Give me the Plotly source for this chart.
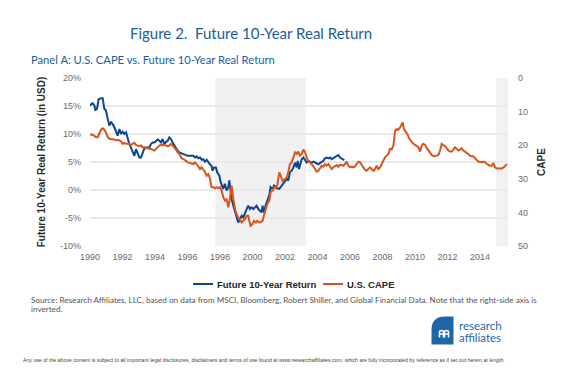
import plotly.graph_objects as go

# ---------------- data ----------------
ret_year = [1990.00, 1990.06, 1990.16, 1990.27, 1990.33, 1990.43, 1990.53, 1990.68, 1990.78, 1990.88,
            1990.98, 1991.09, 1991.19, 1991.29, 1991.39, 1991.50, 1991.60, 1991.70, 1991.81, 1991.91,
            1992.01, 1992.11, 1992.22, 1992.32, 1992.42, 1992.52, 1992.63, 1992.73, 1992.83, 1992.93,
            1993.04, 1993.14, 1993.24, 1993.34, 1993.45, 1993.55, 1993.65, 1993.75, 1993.86, 1993.96,
            1994.06, 1994.16, 1994.27, 1994.37, 1994.47, 1994.57, 1994.68, 1994.78, 1994.88, 1994.98,
            1995.09, 1995.19, 1995.29, 1995.39, 1995.50, 1995.60, 1995.70, 1995.81, 1995.91, 1996.01,
            1996.36, 1996.46, 1996.56, 1996.66, 1996.77, 1996.87, 1996.97, 1997.07, 1997.18, 1997.28,
            1997.38, 1997.48, 1997.54, 1997.63, 1997.75, 1997.83, 1997.96, 1998.04, 1998.12, 1998.20,
            1998.30, 1998.41, 1998.51, 1998.57, 1998.65, 1998.71, 1998.82, 1998.92, 1999.02, 1999.12,
            1999.23, 1999.33, 1999.43, 1999.53, 1999.64, 1999.74, 1999.84, 1999.94, 2000.05, 2000.15,
            2000.25, 2000.36, 2000.46, 2000.56, 2000.62, 2000.70, 2000.83, 2000.91, 2001.03, 2001.11,
            2001.24, 2001.32, 2001.44, 2001.52, 2001.65, 2001.73, 2001.85, 2002.00, 2002.10, 2002.20,
            2002.30, 2002.41, 2002.51, 2002.62, 2002.72, 2002.78, 2002.86, 2002.94, 2003.03, 2003.13,
            2003.23, 2003.33, 2003.44, 2003.54, 2003.64, 2003.74, 2003.85, 2003.95, 2004.05, 2004.15,
            2004.26, 2004.36, 2004.46, 2004.56, 2004.67, 2004.77, 2004.87, 2004.97, 2005.08, 2005.18,
            2005.28, 2005.38, 2005.49, 2005.59, 2005.65]
ret_pct = [15.1, 15.2, 15.5, 15.1, 14.3, 14.5, 16.2, 16.4, 16.4, 14.5,
           14.2, 12.7, 11.5, 12.1, 11.8, 11.2, 10.6, 9.7, 10.9, 10.0,
           10.4, 10.0, 10.3, 9.1, 8.2, 7.6, 6.8, 6.1, 7.3, 6.4,
           5.8, 5.8, 6.7, 7.4, 7.6, 7.6, 7.6, 8.2, 8.5, 8.5,
           8.8, 9.0, 8.8, 8.5, 9.1, 8.2, 8.6, 8.8, 9.4, 9.1,
           8.5, 7.9, 7.6, 7.0, 6.7, 6.6, 6.4, 6.3, 6.3, 6.1,
           6.1, 5.8, 6.0, 5.65, 5.8, 5.4, 5.5, 5.05, 5.4, 4.9,
           4.6, 4.3, 3.45, 4.0, 4.0, 3.15, 2.55, 1.4, 0.8, 0.2,
           1.1, -0.1, 0.5, 1.7, -0.1, -1.6, -2.8, -3.7, -4.9, -5.8,
           -5.2, -4.6, -4.9, -4.0, -3.4, -2.8, -3.4, -3.1, -3.4, -3.1,
           -2.8, -3.4, -3.7, -4.0, -2.8, -4.0, -2.5, -1.9, -1.0, 0.5,
           0.2, 0.8, 0.5, 0.3, 0.2, 0.5, 1.1, 1.7, 2.0, 1.7,
           3.15, 3.45, 4.0, 4.9, 4.05, 5.2, 3.75, 4.6, 5.5, 5.8,
           5.4, 4.9, 5.2, 5.05, 4.9, 5.05, 4.9, 4.8, 4.6, 4.8,
           5.05, 5.2, 5.65, 5.8, 5.65, 5.8, 5.5, 5.65, 5.8, 6.1,
           6.25, 5.8, 5.65, 5.4, 5.35]

cape_year = [1990.00, 1990.06, 1990.16, 1990.27, 1990.37, 1990.47, 1990.57, 1990.68, 1990.78, 1990.88,
             1990.98, 1991.09, 1991.19, 1991.29, 1991.39, 1991.50, 1991.60, 1991.70, 1991.81, 1991.91,
             1992.01, 1992.11, 1992.22, 1992.32, 1992.42, 1992.52, 1992.63, 1992.73, 1992.83, 1992.93,
             1993.04, 1993.14, 1993.24, 1993.34, 1993.45, 1993.55, 1993.65, 1993.75, 1993.86, 1993.96,
             1994.06, 1994.16, 1994.27, 1994.37, 1994.47, 1994.57, 1994.68, 1994.78, 1994.88, 1994.98,
             1995.09, 1995.19, 1995.29, 1995.39, 1995.50, 1995.60, 1995.70, 1995.81, 1995.91, 1996.01,
             1996.36, 1996.46, 1996.56, 1996.66, 1996.77, 1996.87, 1996.97, 1997.07, 1997.18, 1997.28,
             1997.38, 1997.48, 1997.59, 1997.69, 1997.79, 1997.89, 1998.00, 1998.10, 1998.20, 1998.30,
             1998.41, 1998.51, 1998.61, 1998.65, 1998.71, 1998.82, 1998.92, 1999.02, 1999.12, 1999.23,
             1999.33, 1999.43, 1999.53, 1999.64, 1999.74, 1999.80, 1999.88, 2000.01, 2000.09, 2000.21,
             2000.29, 2000.42, 2000.50, 2000.62, 2000.70, 2000.83, 2000.91, 2001.03, 2001.11, 2001.24,
             2001.32, 2001.44, 2001.52, 2001.65, 2001.73, 2001.85, 2002.00, 2002.10, 2002.20, 2002.30,
             2002.41, 2002.51, 2002.62, 2002.72, 2002.82, 2002.92, 2003.03, 2003.13, 2003.23, 2003.33,
             2003.44, 2003.54, 2003.64, 2003.74, 2003.85, 2003.95, 2004.05, 2004.15, 2004.26, 2004.36,
             2004.46, 2004.56, 2004.67, 2004.77, 2004.87, 2004.97, 2005.08, 2005.18, 2005.28, 2005.38,
             2005.49, 2005.59, 2005.69, 2005.79, 2005.90, 2006.00, 2006.10, 2006.21, 2006.31, 2006.41,
             2006.51, 2006.62, 2006.72, 2006.82, 2006.92, 2007.02, 2007.13, 2007.23, 2007.33, 2007.44,
             2007.54, 2007.64, 2007.74, 2007.85, 2007.95, 2008.05, 2008.15, 2008.26, 2008.36, 2008.46,
             2008.56, 2008.67, 2008.77, 2008.87, 2008.97, 2009.08, 2009.18, 2009.24, 2009.32, 2009.45,
             2009.53, 2009.65, 2009.79, 2009.90, 2010.00, 2010.10, 2010.21, 2010.31, 2010.41, 2010.51,
             2010.62, 2010.72, 2010.82, 2010.92, 2011.03, 2011.13, 2011.23, 2011.33, 2011.44, 2011.54,
             2011.64, 2011.74, 2011.85, 2011.95, 2012.05, 2012.15, 2012.26, 2012.36, 2012.46, 2012.56,
             2012.67, 2012.77, 2012.87, 2012.97, 2013.08, 2013.18, 2013.28, 2013.38, 2013.49, 2013.59,
             2013.69, 2013.79, 2013.90, 2014.00, 2014.10, 2014.20, 2014.31, 2014.41, 2014.51, 2014.61,
             2014.72, 2014.82, 2014.92, 2015.03, 2015.13, 2015.23, 2015.33, 2015.44, 2015.54, 2015.64]
cape_value = [16.7, 16.9, 16.9, 17.3, 17.6, 17.6, 16.4, 15.4, 15.0, 15.4,
              16.2, 17.6, 18.1, 18.1, 18.3, 18.3, 18.6, 18.4, 18.6, 18.9,
              19.6, 19.3, 19.6, 19.6, 19.6, 19.9, 19.6, 19.3, 19.9, 20.1,
              20.3, 20.1, 20.6, 20.6, 20.9, 20.6, 21.1, 21.1, 21.3, 21.6,
              21.1, 20.6, 20.1, 19.9, 20.1, 19.9, 20.1, 20.3, 20.1, 19.6,
              20.1, 20.6, 21.3, 22.1, 22.6, 23.6, 24.1, 24.3, 24.6, 25.1,
              25.6, 25.1, 25.6, 26.3, 27.1, 26.6, 27.1, 27.9, 29.1, 28.6,
              29.9, 32.5, 32.5, 32.8, 32.5, 32.8, 32.5, 33.5, 35.5, 36.5,
              36.0, 38.5, 36.0, 33.5, 32.0, 36.0, 39.0, 40.5, 41.5, 42.0,
              43.0, 42.5, 42.0, 41.0, 41.0, 42.5, 44.0, 43.4, 42.5, 43.0,
              42.5, 43.0, 42.7, 42.5, 41.0, 39.0, 37.5, 36.5, 34.0, 33.5,
              32.5, 32.8, 32.0, 28.1, 29.1, 30.6, 30.1, 29.6, 28.1, 25.6,
              25.1, 23.6, 22.1, 22.6, 21.9, 23.1, 22.6, 21.3, 22.1, 23.6,
              24.9, 25.1, 25.6, 26.3, 27.1, 27.9, 27.6, 26.9, 26.1, 26.4,
              25.6, 26.1, 25.6, 26.4, 27.1, 26.6, 26.3, 25.9, 26.4, 25.9,
              25.9, 26.1, 25.6, 24.9, 26.1, 26.6, 26.4, 26.6, 26.3, 25.6,
              24.9, 25.1, 25.9, 26.6, 27.3, 27.6, 27.1, 26.6, 27.1, 27.6,
              27.1, 26.1, 27.1, 26.6, 25.6, 24.3, 23.6, 23.1, 22.6, 21.1,
              21.3, 20.1, 15.7, 15.2, 15.4, 14.7, 13.7, 13.2, 15.2, 16.2,
              16.7, 18.1, 19.1, 19.6, 19.9, 20.3, 20.6, 21.9, 20.1, 19.6,
              19.9, 20.9, 21.6, 22.1, 22.9, 23.3, 23.3, 23.1, 22.9, 21.6,
              19.6, 19.9, 20.3, 20.9, 21.6, 21.9, 21.9, 21.3, 20.6, 21.1,
              21.6, 21.3, 20.9, 21.6, 22.1, 22.3, 22.6, 23.1, 23.3, 23.3,
              23.9, 24.3, 24.9, 24.9, 25.1, 24.9, 25.1, 25.6, 25.9, 26.1,
              26.1, 25.3, 26.6, 26.9, 26.9, 26.9, 26.9, 26.6, 26.3, 25.6]

x_ticks = [1990, 1992, 1994, 1996, 1998, 2000, 2002, 2004, 2006, 2008, 2010, 2012, 2014]
y_ticks = [-10, -5, 0, 5, 10, 15, 20]
y_ticktext = ["-10%", "-5%", "0%", "5%", "10%", "15%", "20%"]
y2_ticks = [0, 10, 20, 30, 40, 50]
shaded_periods = [(1997.7, 2003.3), (2015.0, 2015.72)]
x_range = [1990.0, 2015.72]

# ---------------- styling ----------------
# The page body has an 8px margin, so the figure is drawn 8px smaller and
# every screen position below is given in window pixels and shifted by OFF.
OFF = 8
W, H = 580 - OFF, 371 - OFF
ML, MT = 90 - OFF, 78 - OFF
MR = W - (508 - OFF)
MB = H - (246 - OFF)
PW, PH = W - ML - MR, H - MT - MB
BLUE = "#0c4592"
ORANGE = "#d8541c"
TITLE_BLUE = "#1b5c9c"
TICK_FONT = dict(family="Liberation Sans, Arial", size=9, color="#6a6a6a")


def px(x):
    return (x - OFF - ML) / PW


def py(y):
    return (H - MB - (y - OFF)) / PH


fig = go.Figure()
fig.add_trace(go.Scatter(x=ret_year, y=ret_pct, mode="lines", name="Future 10-Year Return",
                         line=dict(color=BLUE, width=2), showlegend=False))
fig.add_trace(go.Scatter(x=cape_year, y=cape_value, mode="lines", name="U.S. CAPE", yaxis="y2",
                         line=dict(color=ORANGE, width=2), showlegend=False))

shapes = []
for a, b in shaded_periods:
    shapes.append(dict(type="rect", xref="x", yref="paper", x0=a, x1=b, y0=0, y1=1,
                       fillcolor="#f1f1f1", line=dict(width=0), layer="between"))

# manual legend
legend_items = [("Future 10-Year Return", BLUE, 193), ("U.S. CAPE", ORANGE, 323)]
annotations = []
for label, col, x0 in legend_items:
    shapes.append(dict(type="line", xref="paper", yref="paper", x0=px(x0), x1=px(x0 + 20),
                       y0=py(284), y1=py(284), line=dict(color=col, width=2)))
    annotations.append(dict(text=label, xref="paper", yref="paper", x=px(x0 + 22), y=py(284),
                            xanchor="left", yanchor="middle", showarrow=False,
                            font=dict(family="Liberation Sans, Arial", size=9.5, color="#262626",
                                      weight="bold")))

# logo
lx0, lx1, ly0, ly1 = 431.5, 453.5, 316.5, 344.5
logo_path = (f"M {px(lx1)},{py(ly0)} L {px(lx1)},{py(ly1)} L {px(lx0)},{py(ly1)} "
             f"L {px(lx0)},{py(330)} Q {px(lx0)},{py(ly0)} {px(445)},{py(ly0)} Z")
shapes.append(dict(type="path", xref="paper", yref="paper", path=logo_path,
                   fillcolor="#1f66a8", line=dict(width=0)))
for gx in (439.5, 444.5):
    gpath = (f"M {px(gx)},{py(337.5)} L {px(gx)},{py(332)} "
             f"Q {px(gx)},{py(330.5)} {px(gx + 2)},{py(330.5)} "
             f"Q {px(gx + 4)},{py(330.5)} {px(gx + 4)},{py(332)} L {px(gx + 4)},{py(337.5)} "
             f"M {px(gx)},{py(334)} L {px(gx + 4)},{py(334)}")
    shapes.append(dict(type="path", xref="paper", yref="paper", path=gpath,
                       line=dict(color="white", width=1.5)))

annotations += [
    dict(text="Figure 2.  Future 10-Year Real Return", xref="paper", yref="paper",
         x=px(250.5), y=py(33), xanchor="center", yanchor="middle", showarrow=False,
         font=dict(family="Lato", size=15, color=TITLE_BLUE)),
    dict(text="Panel A: U.S. CAPE vs. Future 10-Year Real Return", xref="paper", yref="paper",
         x=px(29), y=py(59.5), xanchor="left", yanchor="middle", showarrow=False,
         font=dict(family="Lato", size=11.2, color=TITLE_BLUE)),
    dict(text="Source: Research Affiliates, LLC, based on data from MSCI, Bloomberg, Robert Shiller, "
              "and Global Financial Data. Note that the right-side axis is",
         xref="paper", yref="paper", x=px(29), y=py(299.5), xanchor="left", yanchor="middle",
         showarrow=False, font=dict(family="Lato", size=8.15, color="#555555")),
    dict(text="inverted.", xref="paper", yref="paper", x=px(29), y=py(309), xanchor="left",
         yanchor="middle", showarrow=False, font=dict(family="Lato", size=8.15, color="#555555")),
    dict(text="research", xref="paper", yref="paper", x=px(456.5), y=py(325.5), xanchor="left",
         yanchor="middle", showarrow=False, font=dict(family="Lato", size=11.5, color="#1f66a8")),
    dict(text="affiliates", xref="paper", yref="paper", x=px(456.5), y=py(337.5), xanchor="left",
         yanchor="middle", showarrow=False, font=dict(family="Lato", size=11.5, color="#1f66a8")),
    dict(text="Any use of the above content is subject to all important legal disclosures, disclaimers and "
              "terms of use found at www.researchaffiliates.com, which are fully incorporated by reference "
              "as if set out herein at length.",
         xref="paper", yref="paper", x=px(263.5), y=py(360), xanchor="center", yanchor="middle",
         showarrow=False, font=dict(family="Liberation Sans, Arial", size=5.2, color="#444444")),
]

fig.update_layout(
    width=W, height=H,
    margin=dict(l=ML, r=MR, t=MT, b=MB, pad=0),
    paper_bgcolor="white", plot_bgcolor="white",
    showlegend=False,
    shapes=shapes, annotations=annotations,
    xaxis=dict(range=x_range, tickvals=x_ticks, showgrid=False, zeroline=False, showline=False,
               ticks="", tickfont=TICK_FONT, ticklabelstandoff=4),
    yaxis=dict(range=[-10, 20], tickvals=y_ticks, ticktext=y_ticktext, showgrid=True,
               gridcolor="#e9e9e9", gridwidth=2, zeroline=False, showline=False, ticks="",
               tickfont=TICK_FONT, ticklabelstandoff=8,
               title=dict(text="Future 10-Year Real Return (in USD)", standoff=12,
                          font=dict(family="Liberation Sans, Arial", size=10, color="#2b2b2b",
                                    weight="bold"))),
    yaxis2=dict(range=[50, 0], tickvals=y2_ticks, overlaying="y", side="right", showgrid=False,
                zeroline=False, showline=False, ticks="", tickfont=TICK_FONT, ticklabelstandoff=9,
                title=dict(text="CAPE", standoff=10,
                           font=dict(family="Liberation Sans, Arial", size=10, color="#2b2b2b",
                                     weight="bold"))),
)

fig.write_html("out.html")
